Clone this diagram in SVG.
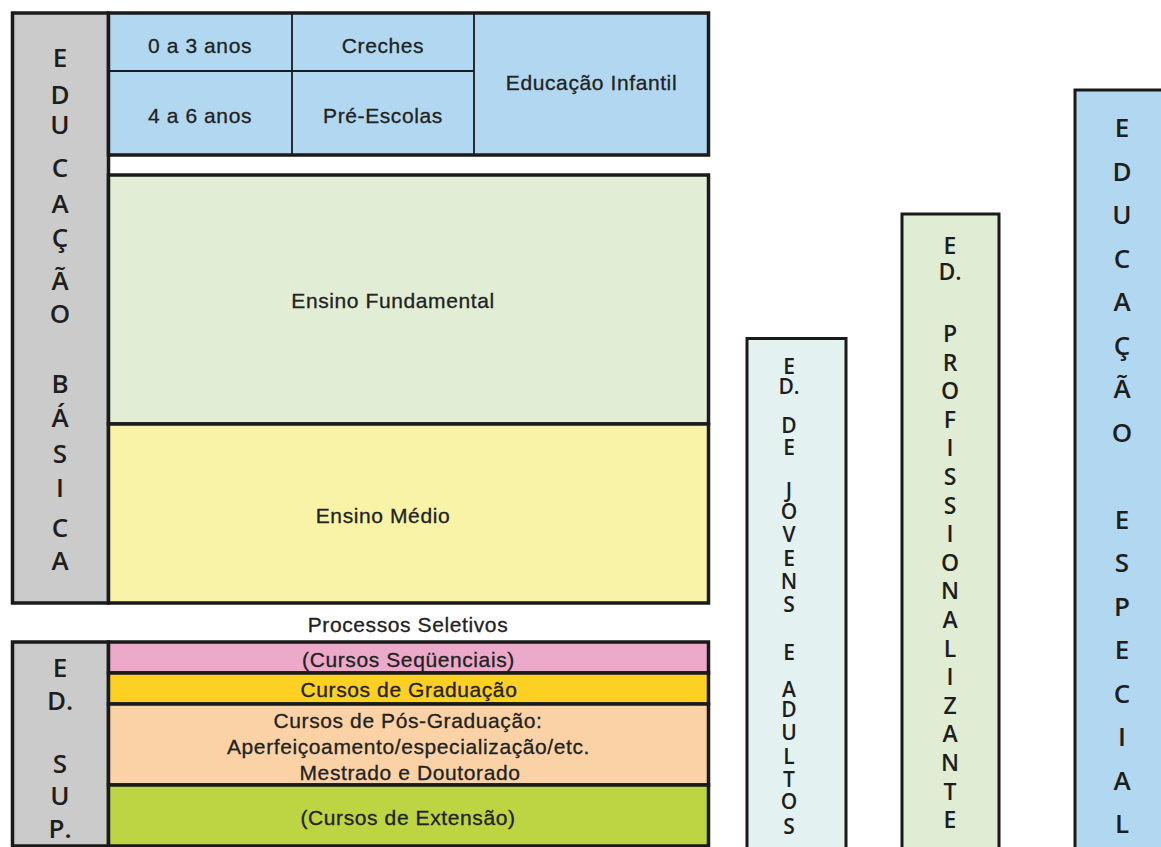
<svg xmlns="http://www.w3.org/2000/svg" width="1161" height="847" viewBox="0 0 1161 847">
<style>
.lbl{font-family:"Liberation Sans",Arial,sans-serif;font-size:21px;fill:#222222;stroke:#222222;stroke-width:0.3;text-anchor:middle;letter-spacing:0.6px}
.vt{font-family:"Open Sans","DejaVu Sans",sans-serif;font-weight:600;fill:#1e1e1e;text-anchor:middle}
.box{stroke:#1a1a1a;stroke-width:3.5}
.col{stroke:#1a1a1a;stroke-width:3}
.thin{stroke:#1a1a1a;stroke-width:1.8;fill:none}
</style>
<rect x="0" y="0" width="1161" height="847" fill="#ffffff"/>

<g id="educacao-basica">
  <rect class="box" x="12.5" y="13" width="96" height="590" fill="#cbcbcb"/>
  <text class="vt" font-size="26">
    <tspan x="60" y="67">E</tspan><tspan x="60" y="104">D</tspan><tspan x="60" y="134">U</tspan><tspan x="60" y="177">C</tspan><tspan x="60" y="213">A</tspan><tspan x="60" y="247">Ç</tspan><tspan x="60" y="290">Ã</tspan><tspan x="60" y="323">O</tspan><tspan x="60" y="393">B</tspan><tspan x="60" y="427">Á</tspan><tspan x="60" y="463">S</tspan><tspan x="60" y="497">I</tspan><tspan x="60" y="537">C</tspan><tspan x="60" y="570">A</tspan>
  </text>
</g>

<g id="educacao-infantil">
  <rect class="box" x="108.5" y="13" width="600" height="142" fill="#b1d8f0"/>
  <line class="thin" x1="108.5" y1="71" x2="474" y2="71"/>
  <line class="thin" x1="292" y1="13" x2="292" y2="155"/>
  <line class="thin" x1="474" y1="13" x2="474" y2="155"/>
  <text class="lbl" x="200" y="52.5">0 a 3 anos</text>
  <text class="lbl" x="383" y="52.5">Creches</text>
  <text class="lbl" x="200" y="122.5">4 a 6 anos</text>
  <text class="lbl" x="383" y="122.5">Pré-Escolas</text>
  <text class="lbl" x="591.5" y="90">Educação Infantil</text>
</g>

<g id="ensino-fundamental">
  <rect class="box" x="108.5" y="175" width="600" height="249" fill="#e1edd5"/>
  <text class="lbl" x="393" y="308">Ensino Fundamental</text>
</g>

<g id="ensino-medio">
  <rect class="box" x="108.5" y="424" width="600" height="179" fill="#f8f3a6"/>
  <text class="lbl" x="383" y="523">Ensino Médio</text>
</g>

<g id="processos-seletivos">
  <text class="lbl" x="408" y="632">Processos Seletivos</text>
</g>

<g id="ed-sup">
  <rect class="box" x="12.5" y="642" width="96" height="204" fill="#cbcbcb"/>
  <text class="vt" font-size="26">
    <tspan x="60" y="677">E</tspan><tspan x="60" y="710">D.</tspan><tspan x="60" y="773">S</tspan><tspan x="60" y="805">U</tspan><tspan x="60" y="838">P.</tspan>
  </text>
</g>

<g id="cursos-sequenciais">
  <rect class="box" x="108.5" y="642" width="600" height="31" fill="#eca9c9"/>
  <text class="lbl" x="408.5" y="666.5">(Cursos Seqüenciais)</text>
</g>
<g id="cursos-graduacao">
  <rect class="box" x="108.5" y="673" width="600" height="31" fill="#fdd023"/>
  <text class="lbl" x="409" y="697">Cursos de Graduação</text>
</g>
<g id="cursos-pos">
  <rect class="box" x="108.5" y="704" width="600" height="81" fill="#fbd2a5"/>
  <text class="lbl" x="408" y="728">Cursos de Pós-Graduação:</text>
  <text class="lbl" x="408.5" y="754">Aperfeiçoamento/especialização/etc.</text>
  <text class="lbl" x="410" y="780">Mestrado e Doutorado</text>
</g>
<g id="cursos-extensao">
  <rect class="box" x="108.5" y="785" width="600" height="61" fill="#bdd443"/>
  <text class="lbl" x="408" y="825">(Cursos de Extensão)</text>
</g>

<g id="ed-jovens-adultos">
  <rect class="col" x="747" y="338.5" width="99" height="520" fill="#e4f1f1"/>
  <text class="vt" font-size="21">
    <tspan x="789" y="373.5">E</tspan><tspan x="789" y="394">D.</tspan><tspan x="789" y="433">D</tspan><tspan x="789" y="455">E</tspan><tspan x="789" y="498">J</tspan><tspan x="789" y="519">O</tspan><tspan x="789" y="541.5">V</tspan><tspan x="789" y="566">E</tspan><tspan x="789" y="588.5">N</tspan><tspan x="789" y="611.5">S</tspan><tspan x="789" y="659.5">E</tspan><tspan x="789" y="696.5">A</tspan><tspan x="789" y="716.5">D</tspan><tspan x="789" y="740">U</tspan><tspan x="789" y="764">L</tspan><tspan x="789" y="786.5">T</tspan><tspan x="789" y="809">O</tspan><tspan x="789" y="833.5">S</tspan>
  </text>
</g>

<g id="ed-profissionalizante">
  <rect class="col" x="902" y="214" width="97" height="650" fill="#e0ecd4"/>
  <text class="vt" font-size="23">
    <tspan x="950" y="254">E</tspan><tspan x="950" y="280">D.</tspan><tspan x="950" y="342">P</tspan><tspan x="950" y="370.6">R</tspan><tspan x="950" y="399.2">O</tspan><tspan x="950" y="427.8">F</tspan><tspan x="950" y="456.4">I</tspan><tspan x="950" y="485">S</tspan><tspan x="950" y="513.6">S</tspan><tspan x="950" y="542.2">I</tspan><tspan x="950" y="570.8">O</tspan><tspan x="950" y="599.4">N</tspan><tspan x="950" y="628">A</tspan><tspan x="950" y="656.6">L</tspan><tspan x="950" y="685.2">I</tspan><tspan x="950" y="713.8">Z</tspan><tspan x="950" y="742.4">A</tspan><tspan x="950" y="771">N</tspan><tspan x="950" y="799.6">T</tspan><tspan x="950" y="828.2">E</tspan>
  </text>
</g>

<g id="educacao-especial">
  <rect class="col" x="1075" y="90" width="100" height="800" fill="#b1d8f0"/>
  <text class="vt" font-size="26">
    <tspan x="1122" y="137">E</tspan><tspan x="1122" y="180.5">D</tspan><tspan x="1122" y="224">U</tspan><tspan x="1122" y="267.5">C</tspan><tspan x="1122" y="311">A</tspan><tspan x="1122" y="354.5">Ç</tspan><tspan x="1122" y="398">Ã</tspan><tspan x="1122" y="441.5">O</tspan><tspan x="1122" y="528.5">E</tspan><tspan x="1122" y="572">S</tspan><tspan x="1122" y="615.5">P</tspan><tspan x="1122" y="659">E</tspan><tspan x="1122" y="702.5">C</tspan><tspan x="1122" y="746">I</tspan><tspan x="1122" y="789.5">A</tspan><tspan x="1122" y="833">L</tspan>
  </text>
</g>

<g id="connectors"/>
</svg>
